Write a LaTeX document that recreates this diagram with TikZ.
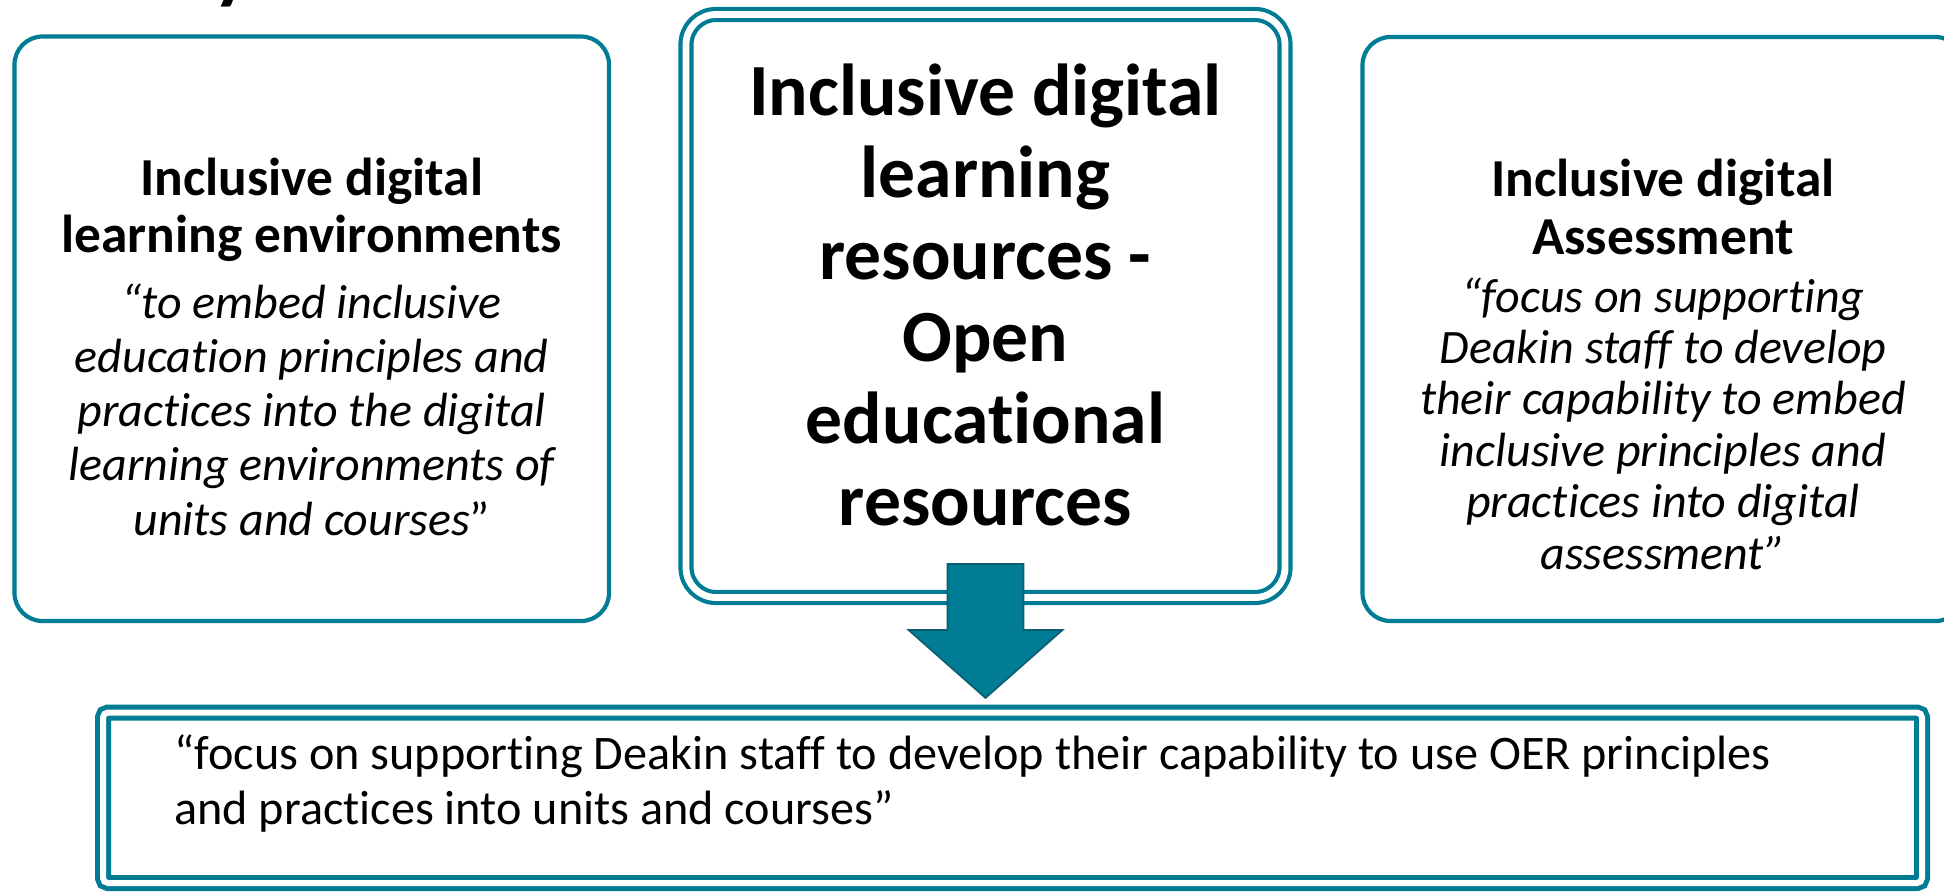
\documentclass[tikz,border=0pt]{standalone}
\usepackage{fontspec}
\setmainfont{Carlito}[Ligatures=NoCommon]
\usetikzlibrary{calc}
\definecolor{tealline}{RGB}{0,124,148}
\definecolor{tealdark}{RGB}{14,92,112}
\begin{document}
\begin{tikzpicture}[x=0.5pt,y=-0.5pt,
  sidebox/.style={draw=tealline, line width=2.1pt, rounded corners=14pt, inner sep=0pt},
  dblbox/.style={draw=tealline, double=white, inner sep=0pt},
  headtxt/.style={anchor=base, align=center, inner sep=0pt, font=\fontsize{26.7}{28.7}\selectfont\bfseries},
  quotetxt/.style={anchor=base, align=center, inner sep=0pt, font=\fontsize{24}{27.1}\selectfont\itshape},
  bigtxt/.style={anchor=base, align=center, inner sep=0pt, font=\fontsize{36.8}{41}\selectfont\bfseries},
  bodytxt/.style={anchor=base west, align=left, inner sep=0pt, font=\fontsize{24.1}{27.5}\selectfont},
  blockarrow/.style={fill=tealline, draw=tealdark, line width=0.8pt, line join=miter}
]
\useasboundingbox (0,0) rectangle (1944,891);

% cut-off title fragment
\node[anchor=base west, inner sep=0pt, font=\fontsize{40}{40}\selectfont\bfseries] (titlefrag) at (213,-6) {y};

% left box
\node[sidebox, minimum width=297.25pt, minimum height=292.25pt] (envbox) at (311.75,328.75) {};
\node[headtxt] (envtitle) at (311.75,252.5) {Inclusive digital\\learning environments};
\node[quotetxt] (envquote) at (311.75,535) {“to embed inclusive\\education principles and\\practices into the digital\\learning environments of\\units and courses{\upshape ”}};

% right box
\node[sidebox, minimum width=300.5pt, minimum height=292pt] (assbox) at (1663,329) {};
\node[headtxt] (asstitle) at (1663,254) {Inclusive digital\\Assessment};
\node[quotetxt, font=\fontsize{24}{25.7}\selectfont\itshape] (assquote) at (1663,569) {“focus on supporting\\Deakin staff to develop\\their capability to embed\\inclusive principles and\\practices into digital\\assessment”};

% centre box
\node[dblbox, line width=2.1pt, double distance=3.4pt, rounded corners=15pt, minimum width=299.5pt, minimum height=291.5pt] (oerbox) at (985.5,306) {};
\node[bigtxt] (oertitle) at (985.5,525) {Inclusive digital\\learning\\resources -\\Open\\educational\\resources};

% bottom box
\node[dblbox, line width=2.5pt, double distance=3pt, rounded corners=2.5pt, minimum width=909.5pt, minimum height=85.25pt] (aimbox) at (1012.5,797.75) {};
\node[bodytxt] (aimtxt) at (174,824) {“focus on supporting Deakin staff to develop their capability to use OER principles\\and practices into units and courses”};

% block arrow
\coordinate (atop) at (985.5,564);
\coordinate (atip) at (985.5,698);
\draw[blockarrow] ($(atop)+(-38,0)$) -- ($(atop)+(38,0)$) -- ($(atop)+(38,66)$) -- ($(atop)+(77,66)$) -- (atip) -- ($(atop)+(-77,66)$) -- ($(atop)+(-38,66)$) -- cycle;
\end{tikzpicture}
\end{document}
